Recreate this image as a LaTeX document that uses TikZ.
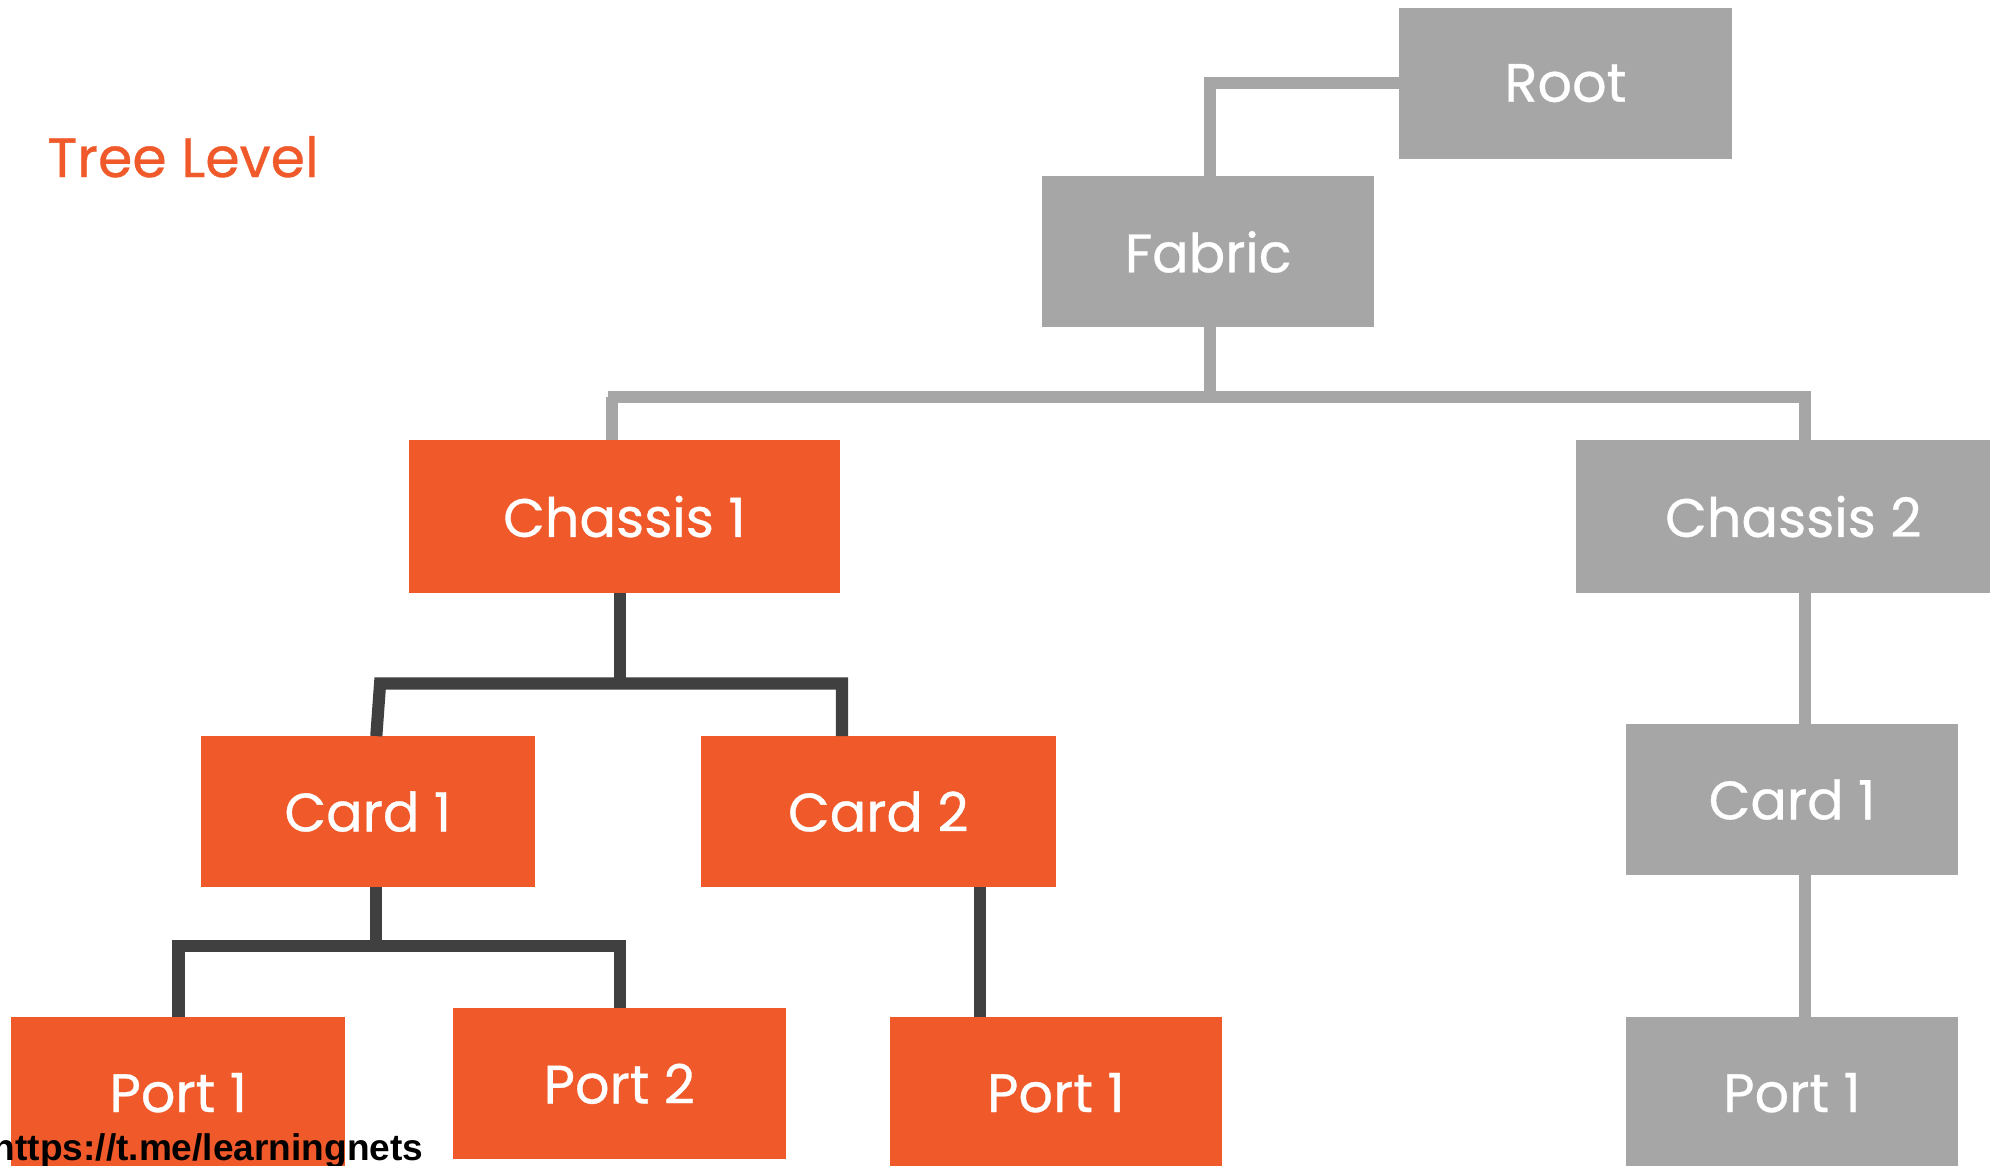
\documentclass[tikz,border=0pt]{standalone}
\usepackage{fontspec}
\setmainfont{Poppins}[FakeBold=0.6]
\newfontfamily\wmfont{Liberation Sans}
\definecolor{psorange}{HTML}{F05A2A}
\definecolor{psgray}{HTML}{A6A6A6}
\definecolor{psdark}{HTML}{404040}
\begin{document}
\begin{tikzpicture}[x=0.5pt,y=-0.5pt,
  box/.style={rectangle, inner sep=0pt, outer sep=0pt, text=white,
    font=\fontsize{21.3}{25}\selectfont, minimum height=59.5pt},
  obox/.style={box, fill=psorange},
  gbox/.style={box, fill=psgray},
  gline/.style={draw=psgray, line width=4.6pt, line join=miter},
  dline/.style={draw=psdark, line width=4.8pt, line join=miter}]
\useasboundingbox (0,0) rectangle (1568,918);
\clip (0,0) rectangle (1568,918);
\fill[white] (0,0) rectangle (1568,918);

% title
\node[anchor=base west, inner sep=0pt, text=psorange, font=\fontsize{21.8}{25}\selectfont] (title) at (37,139.5) {Tree Level};

% nodes
\node[gbox, minimum width=131.5pt] (root) at (1233.5,65.5) {Root};
\node[gbox, minimum width=131pt] (fabric) at (952,198.5) {Fabric};
\node[obox, minimum width=170pt, minimum height=60pt] (ch1) at (492,407) {Chassis 1};
\node[gbox, minimum width=171pt, minimum height=60pt] (ch2) at (1413,407) {Chassis 2};
\node[obox, minimum width=131.8pt] (card1) at (289.8,639.5) {Card 1};
\node[obox, minimum width=140pt] (card2) at (692,639.5) {Card 2};
\node[gbox, minimum width=131pt] (card1r) at (1412,630) {Card 1};
\node[obox, minimum width=131.5pt] (p1l) at (140.5,861) {Port 1};
\node[obox, minimum width=131pt] (p2) at (488,854) {Port 2};
\node[obox, minimum width=131pt] (p1m) at (832,861) {Port 1};
\node[gbox, minimum width=131pt] (p1r) at (1412,861) {Port 1};

% gray connectors
\coordinate (fx) at (953.5,313);
\coordinate (b0) at (479,313);
\coordinate (b1) at (482,313);
\coordinate (b2) at (1422,313);
\draw[gline] (root.west) -| (fx |- fabric.north);
\draw[gline] (fx |- fabric.south) -- (fx);
\draw[gline] (b0) -- (b2) -- (b2 |- ch2.north);
\draw[gline] (b1) -- (b1 |- ch1.north);
\draw[gline] (b2 |- ch2.south) -- (b2 |- card1r.north);
\draw[gline] (b2 |- card1r.south) -- (b2 |- p1r.north);

% dark connectors
\coordinate (c1) at (488.6,538.5);
\coordinate (c1l) at (299.5,538.5);
\coordinate (c1r) at (663.5,538.5);
\draw[dline] (c1 |- ch1.south) -- (c1);
\draw[dline] (296.5,0 |- card1.north) -- (c1l) -- (c1r) -- (c1r |- card2.north);
\coordinate (k1) at (296,745.4);
\coordinate (k1l) at (140.6,745.4);
\coordinate (k1r) at (488.7,745.4);
\draw[dline] (k1 |- card1.south) -- (k1);
\draw[dline] (k1l |- p1l.north) -- (k1l) -- (k1r) -- (k1r |- p2.north);
\coordinate (k2) at (772,698);
\draw[dline] (k2 |- card2.south) -- (k2 |- p1m.north);

% watermark
\node[anchor=base west, inner sep=0pt, font=\wmfont\bfseries\fontsize{14.6}{17}\selectfont] (wm) at (-6,914.5) {https://t.me/learningnets};
\end{tikzpicture}
\end{document}
